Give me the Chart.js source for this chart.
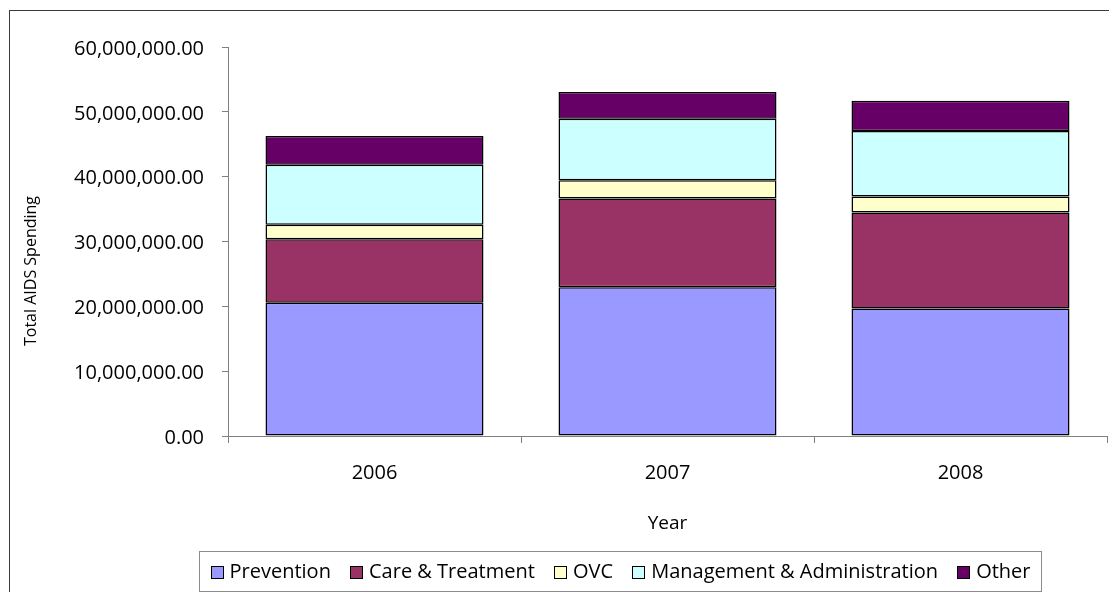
<!DOCTYPE html>
<html>
<head>
<meta charset="utf-8">
<script src="https://cdn.jsdelivr.net/npm/chart.js@4.4.1/dist/chart.umd.min.js"></script>
<style>
  html, body { margin: 0; padding: 0; background: #ffffff; }
  #wrap { width: 1109px; height: 592px; position: relative; }
  canvas { display: block; }
</style>
</head>
<body>
<div id="wrap"><canvas id="c" width="1109" height="592"></canvas></div>
<script>
// ---- Data ----
const years = ['2006', '2007', '2008'];
const seriesNames = ['Prevention', 'Care & Treatment', 'OVC', 'Management & Administration', 'Other'];
const prevention    = [20540000, 22960000, 19660000];
const careTreatment = [ 9800000, 13680000, 14810000];
const ovc           = [ 2260000,  2790000,  2480000];
const mgmtAdmin     = [ 9240000,  9490000, 10110000];
const other         = [ 4440000,  4130000,  4640000];
const yTicksMax = 60000000;
const yTickStep = 10000000;
const yAxisTitle = 'Total AIDS Spending';
const xAxisTitle = 'Year';

const seriesValues = [prevention, careTreatment, ovc, mgmtAdmin, other];
const seriesColors = ['#9999FF', '#993366', '#FFFFCC', '#CCFFFF', '#660066'];

const FONT = "'Open Sans', 'Noto Sans', sans-serif";

const datasets = seriesNames.map((name, i) => ({
  label: name,
  data: seriesValues[i],
  backgroundColor: seriesColors[i],
  borderColor: '#000000',
  borderWidth: 1.5,
  borderSkipped: false,
  categoryPercentage: 1.0,
  barPercentage: 0.744
}));

const decorPlugin = {
  id: 'decor',
  beforeDraw(chart) {
    const ctx = chart.ctx;
    ctx.save();
    ctx.fillStyle = '#ffffff';
    ctx.fillRect(0, 0, chart.width, chart.height);
    ctx.strokeStyle = '#3a3a3a';
    ctx.lineWidth = 1;
    ctx.strokeRect(9.5, 10.5, chart.width + 20, chart.height + 20);
    ctx.restore();
  },
  afterDraw(chart) {
    const ctx = chart.ctx;
    const area = chart.chartArea;
    ctx.save();
    // Y axis title
    ctx.fillStyle = '#000000';
    ctx.font = "16px " + FONT;
    ctx.textAlign = 'center';
    ctx.textBaseline = 'middle';
    ctx.translate(31, 271);
    ctx.rotate(-Math.PI / 2);
    ctx.fillText(yAxisTitle, 0, 0);
    ctx.restore();

    // X axis title
    ctx.save();
    ctx.fillStyle = '#000000';
    ctx.font = "19px " + FONT;
    ctx.textAlign = 'center';
    ctx.textBaseline = 'middle';
    ctx.fillText(xAxisTitle, (area.left + area.right) / 2, 524);
    ctx.restore();

    // Legend box
    ctx.save();
    const bx = 199.5, by = 551.5, bw = 842, bh = 40;
    ctx.strokeStyle = '#8c8c8c';
    ctx.lineWidth = 1;
    ctx.strokeRect(bx, by, bw, bh);
    ctx.font = "20px " + FONT;
    ctx.textBaseline = 'middle';
    ctx.textAlign = 'left';
    const sq = 12, gapText = 7, margin = 11;
    const items = chart.data.datasets.map(d => ({
      label: d.label, color: d.backgroundColor, w: ctx.measureText(d.label).width
    }));
    const sumW = items.reduce((s, it) => s + sq + gapText + it.w, 0);
    const gap = (bw - 2 * margin - sumW) / (items.length - 1);
    let x = bx + margin;
    const cy = 572.5;
    items.forEach(it => {
      ctx.fillStyle = it.color;
      ctx.fillRect(Math.round(x) + 0.5, cy - 6, sq, sq);
      ctx.strokeStyle = '#000000';
      ctx.strokeRect(Math.round(x) + 0.5, cy - 6, sq, sq);
      ctx.fillStyle = '#000000';
      ctx.fillText(it.label, x + sq + gapText, cy);
      x += sq + gapText + it.w + gap;
    });
    ctx.restore();
  }
};

new Chart(document.getElementById('c'), {
  type: 'bar',
  data: { labels: years, datasets: datasets },
  options: {
    responsive: false,
    devicePixelRatio: 1,
    animation: false,
    layout: { padding: { left: 0, top: 47, right: 2, bottom: 0 } },
    plugins: {
      legend: { display: false },
      tooltip: { enabled: false },
      title: { display: false }
    },
    scales: {
      x: {
        stacked: true,
        grid: { display: true, drawOnChartArea: false, drawTicks: true, tickLength: 7, color: '#808080', offset: true },
        border: { display: true, color: '#808080', width: 1 },
        ticks: { color: '#000000', font: { family: FONT, size: 20 }, padding: 18, maxRotation: 0 },
        afterFit(scale) { scale.height = 156; }
      },
      y: {
        stacked: true,
        min: 0,
        max: yTicksMax,
        grid: { display: true, drawOnChartArea: false, drawTicks: true, tickLength: 6, color: '#808080' },
        border: { display: true, color: '#808080', width: 1 },
        ticks: {
          stepSize: yTickStep,
          color: '#000000',
          font: { family: FONT, size: 20 },
          padding: 18,
          labelOffset: 2,
          callback: (v) => Number(v).toLocaleString('en-US', { minimumFractionDigits: 2, maximumFractionDigits: 2 })
        },
        afterFit(scale) { scale.width = 228; }
      }
    }
  },
  plugins: [decorPlugin]
});
</script>
</body>
</html>
